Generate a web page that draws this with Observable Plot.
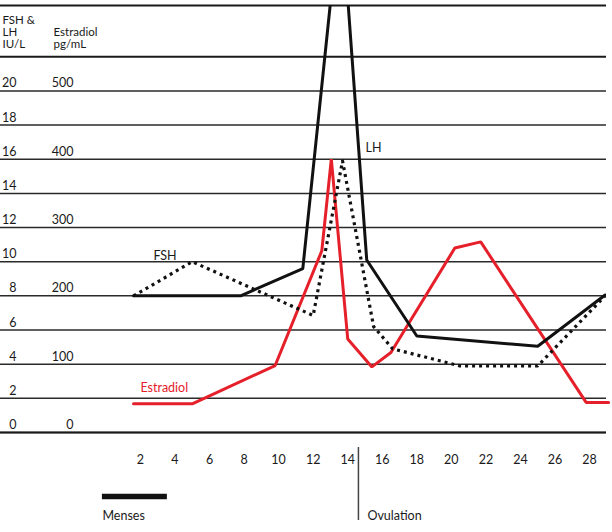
<!DOCTYPE html>
<html>
<head>
<meta charset="utf-8">
<script src="https://cdn.jsdelivr.net/npm/d3@7"></script>
<script src="https://cdn.jsdelivr.net/npm/@observablehq/plot@0.6"></script>
<style>
  html, body { margin: 0; padding: 0; background: #fff; }
  #chart svg { display: block; }
</style>
</head>
<body>
<div id="chart"></div>
<script>
// Cycle day vs hormone level (FSH & LH in IU/L, Estradiol in pg/mL)
const lhDay   = [1.6, 7.8, 11.4, 13.6, 15.1, 18.0, 25.0, 28.9];
const lhValue = [8, 8, 9.6, 31, 10.1, 5.65, 5.05, 8.05];

const fshDay   = [1.6, 5.0, 12.0, 13.7, 15.5, 16.6, 20.5, 25.0, 28.9];
const fshValue = [8, 10, 6.85, 15.9, 6.2, 4.9, 3.9, 3.9, 8];

const e2Day   = [1.6, 5.0, 9.8, 12.5, 13.05, 14.0, 15.4, 16.5, 20.2, 21.7, 27.8, 29.1];
const e2Value = [42, 42, 98, 266, 400, 137, 96, 117, 270, 279, 44, 44]; // pg/mL

const iuTicks  = [0, 2, 4, 6, 8, 10, 12, 14, 16, 18, 20];
const pgTicks  = [0, 100, 200, 300, 400, 500];
const pgPerIU  = 25; // 100 pg/mL aligns with 4 IU/L
const dayTicks = [2, 4, 6, 8, 10, 12, 14, 16, 18, 20, 22, 24, 26, 28];

const headerLine = 22;
const topLine = 25;

const ovulationDay = 14.62;
const menses = [{start: -0.2, end: 3.56}];

const lh  = lhDay.map((d, i) => ({day: d, v: lhValue[i]}));
const fsh = fshDay.map((d, i) => ({day: d, v: fshValue[i]}));
const e2  = e2Day.map((d, i) => ({day: d, pg: e2Value[i]}));

const ink = "#1a1a1a";
const red = "#e5202a";

const chart = Plot.plot({
  width: 612,
  height: 532,
  marginLeft: 0,
  marginRight: 6,
  marginTop: 5,
  marginBottom: 100,
  x: {domain: [-6.1, 28.98], axis: null},
  y: {domain: [0, topLine], axis: null},
  style: {fontFamily: "Lato, 'Open Sans', sans-serif", fontSize: "12.5px", color: ink, background: "#fff"},
  marks: [
    // horizontal grid lines
    Plot.ruleY(iuTicks, {stroke: "#2a2a2a", strokeWidth: 1.5}),
    Plot.ruleY([0, headerLine, topLine], {stroke: "#1a1a1a", strokeWidth: 2.2}),

    // left axis labels (IU/L)
    Plot.text(iuTicks, {y: d => d, text: d => String(d), frameAnchor: "left", dx: 16, textAnchor: "end", lineAnchor: "bottom", dy: -3.5, fill: ink}),
    // second column (pg/mL)
    Plot.text(pgTicks, {y: d => d / pgPerIU, text: d => String(d), frameAnchor: "left", dx: 73, textAnchor: "end", lineAnchor: "bottom", dy: -3.5, fill: ink}),
    // column headers
    Plot.text(["FSH &\nLH\nIU/L"], {y: headerLine, text: d => d, frameAnchor: "left", dx: 2, textAnchor: "start", lineAnchor: "bottom", fontSize: 11.5, lineHeight: 1.05, dy: -9, fill: ink}),
    Plot.text(["Estradiol\npg/mL"], {y: headerLine, text: d => d, frameAnchor: "left", dx: 53, textAnchor: "start", lineAnchor: "bottom", fontSize: 11.5, lineHeight: 1.05, dy: -9, fill: ink}),

    // series
    Plot.line(e2, {x: "day", y: d => d.pg / pgPerIU, stroke: red, strokeWidth: 3, strokeLinejoin: "miter"}),
    Plot.line(fsh, {x: "day", y: "v", stroke: "#111", strokeWidth: 3.2, strokeDasharray: "3 4", strokeLinecap: "butt"}),
    Plot.line(lh, {x: "day", y: "v", stroke: "#111", strokeWidth: 3, clip: true, strokeLinejoin: "miter"}),

    // series labels
    Plot.text(["FSH"], {x: [2.75], y: [10.35], text: d => d, textAnchor: "start", lineAnchor: "middle", fill: ink}),
    Plot.text(["LH"], {x: [15.03], y: [16.68], text: d => d, textAnchor: "start", lineAnchor: "middle", fill: ink}),
    Plot.text(["Estradiol"], {x: [2.0], y: [2.63], text: d => d, textAnchor: "start", lineAnchor: "middle", fill: red}),

    // x axis day labels
    Plot.text(dayTicks, {x: d => d, text: d => String(d), frameAnchor: "bottom", dy: 27, lineAnchor: "middle", fill: ink}),

    // ovulation marker
    Plot.ruleX([ovulationDay], {y1: -0.88, y2: -5.15, stroke: "#444", strokeWidth: 1.5}),
    Plot.text(["Ovulation"], {x: [ovulationDay + 0.52], y: [-4.86], text: d => d, textAnchor: "start", lineAnchor: "middle", fill: ink}),

    // menses bar
    Plot.ruleY(menses, {x1: "start", x2: "end", y: -3.75, stroke: "#111", strokeWidth: 5.5}),
    Plot.text(["Menses"], {x: [-0.2], y: [-4.86], text: d => d, textAnchor: "start", lineAnchor: "middle", fill: ink})
  ]
});

document.getElementById("chart").appendChild(chart);
</script>
</body>
</html>
